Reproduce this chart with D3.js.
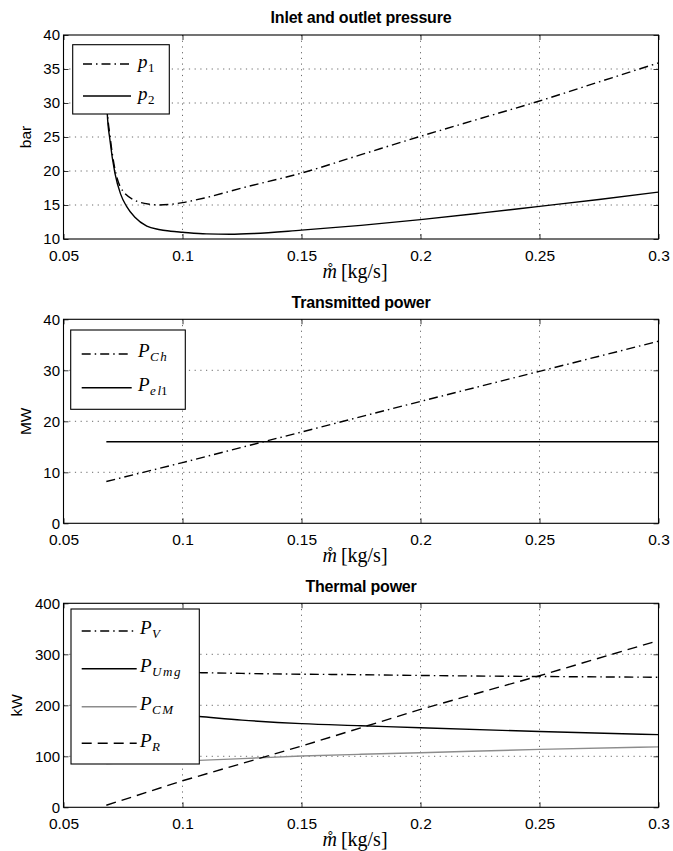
<!DOCTYPE html>
<html>
<head>
<meta charset="utf-8">
<script src="https://cdn.jsdelivr.net/npm/d3@7"></script>
<style>
  body { margin: 0; background: #fff; }
  text { font-family: "Liberation Sans", Arial, Helvetica, sans-serif; fill: #000; }
  .math { font-family: "Liberation Serif", "Times New Roman", serif; }
</style>
</head>
<body>
<div class="chart"></div>
<script>
// dimensions
var svgWidth = 673;
var svgHeight = 851;

var margin = { left: 63.5, right: 14.5 };
var plotHeight = 204;
var panelTops = [35, 319.3, 603.3];

// x axis, shared by all three plots
var xTicks = [0.05, 0.1, 0.15, 0.2, 0.25, 0.3];

// Inlet and outlet pressure (bar)
var p1X = [0.068, 0.0684, 0.0695, 0.0707, 0.0737, 0.0793, 0.0863, 0.09, 0.095, 0.1, 0.11, 0.125, 0.15, 0.175, 0.2, 0.225, 0.25, 0.275, 0.3];
var p1 = [38, 29.2, 25.3, 22.1, 17.8, 15.8, 15.1, 15.0, 15.1, 15.35, 16.1, 17.5, 19.7, 22.4, 25.1, 27.7, 30.3, 33.1, 35.9];
var p2X = [0.068, 0.0684, 0.0695, 0.0716, 0.074, 0.0765, 0.08, 0.085, 0.09, 0.095, 0.1, 0.11, 0.12, 0.13, 0.15, 0.175, 0.2, 0.225, 0.25, 0.275, 0.3];
var p2 = [38, 28.4, 24.6, 19.7, 16.6, 14.8, 13.2, 11.9, 11.4, 11.15, 11.0, 10.75, 10.7, 10.8, 11.3, 12.0, 12.85, 13.8, 14.8, 15.8, 16.9];
var pressureTicks = [10, 15, 20, 25, 30, 35, 40];

// Transmitted power (MW)
var chX = [0.068, 0.1, 0.15, 0.2, 0.25, 0.3];
var pCh = [8.2, 11.9, 17.9, 23.9, 29.8, 35.7];
var el1X = [0.068, 0.3];
var pEl1 = [16, 16];
var powerTicks = [0, 10, 20, 30, 40];

// Thermal power (kW)
var thX = [0.068, 0.085, 0.107, 0.125, 0.15, 0.175, 0.2, 0.25, 0.3];
var pV = [267, 265.5, 264, 262.5, 261, 260, 258.5, 256.5, 255];
var pUmg = [195, 186, 178, 171, 164, 160, 156, 148.5, 142.5];
var pCM = [86, 88.5, 92, 95.5, 100.5, 104, 107, 113.5, 118.5];
var rX = [0.068, 0.1, 0.15, 0.2, 0.25, 0.3];
var pR = [4, 52, 120, 192, 258, 327];
var thermalTicks = [0, 100, 200, 300, 400];

var DASHDOT = "9,4,1.5,4";
var DASHED = "10,6";

function zip(xs, ys) {
  return xs.map(function(x, i) { return [x, ys[i]]; });
}

var panels = [
  {
    title: "Inlet and outlet pressure", ylabel: "bar", ylabelX: 25,
    yDomain: [10, 40], yTicks: pressureTicks,
    legend: { x: 72.7, y: 9.7, w: 96.6, h: 69.3, lineX1: 83, lineX2: 131, textX: 138, rows: [29, 61] },
    series: [
      { label: ["p", "1"], data: zip(p1X, p1), color: "#000", dash: DASHDOT, curve: d3.curveMonotoneX },
      { label: ["p", "2"], data: zip(p2X, p2), color: "#000", dash: null, curve: d3.curveMonotoneX }
    ]
  },
  {
    title: "Transmitted power", ylabel: "MW", ylabelX: 25,
    yDomain: [0, 40], yTicks: powerTicks,
    legend: { x: 70.7, y: 10.7, w: 114.6, h: 79.3, lineX1: 81.7, lineX2: 131.7, textX: 138, rows: [34.7, 68.4] },
    series: [
      { label: ["P", "Ch"], data: zip(chX, pCh), color: "#000", dash: DASHDOT, curve: d3.curveLinear },
      { label: ["P", "el1"], data: zip(el1X, pEl1), color: "#000", dash: null, curve: d3.curveLinear }
    ]
  },
  {
    title: "Thermal power", ylabel: "kW", ylabelX: 16,
    yDomain: [0, 400], yTicks: thermalTicks,
    legend: { x: 71, y: 5.7, w: 128.3, h: 155, lineX1: 81.7, lineX2: 136.7, textX: 140, rows: [27.7, 65.4, 103.4, 140] },
    series: [
      { label: ["P", "V"], data: zip(thX, pV), color: "#000", dash: DASHDOT, curve: d3.curveMonotoneX },
      { label: ["P", "Umg"], data: zip(thX, pUmg), color: "#000", dash: null, curve: d3.curveMonotoneX },
      { label: ["P", "CM"], data: zip(thX, pCM), color: "#8c8c8c", dash: null, curve: d3.curveMonotoneX },
      { label: ["P", "R"], data: zip(rX, pR), color: "#000", dash: DASHED, curve: d3.curveLinear }
    ]
  }
];

var svg = d3.select(".chart")
  .append("svg")
  .attr("width", svgWidth)
  .attr("height", svgHeight);

var plotWidth = svgWidth - margin.left - margin.right;

var xScale = d3.scaleLinear()
  .domain([0.05, 0.3])
  .range([0, plotWidth]);

panels.forEach(function(panel, pi) {

  var g = svg.append("g")
    .attr("transform", `translate(${margin.left}, ${panelTops[pi]})`);

  var yScale = d3.scaleLinear()
    .domain(panel.yDomain)
    .range([plotHeight, 0]);

  // dotted grid
  g.append("g").selectAll("line.vg")
    .data(xTicks.slice(1, -1))
    .enter().append("line")
    .attr("x1", d => xScale(d)).attr("x2", d => xScale(d))
    .attr("y1", 0).attr("y2", plotHeight)
    .attr("stroke", "#444").attr("stroke-width", 0.8)
    .attr("stroke-dasharray", "1.2,4.5");

  g.append("g").selectAll("line.hg")
    .data(panel.yTicks.slice(1, -1))
    .enter().append("line")
    .attr("x1", 0).attr("x2", plotWidth)
    .attr("y1", d => yScale(d)).attr("y2", d => yScale(d))
    .attr("stroke", "#444").attr("stroke-width", 0.8)
    .attr("stroke-dasharray", "1.2,4.5");

  // axes (ticks inward, mirrored on top and right)
  var bottomAxis = d3.axisBottom(xScale).tickValues(xTicks).tickSize(-5).tickPadding(10.5)
    .tickFormat(d3.format("~g"));
  var topAxis = d3.axisTop(xScale).tickValues(xTicks).tickSize(-5).tickFormat("");
  var leftAxis = d3.axisLeft(yScale).tickValues(panel.yTicks).tickSize(-5).tickPadding(3.5);
  var rightAxis = d3.axisRight(yScale).tickValues(panel.yTicks).tickSize(-5).tickFormat("");

  var xAxisG = g.append("g")
    .attr("transform", `translate(0, ${plotHeight})`)
    .call(bottomAxis);
  g.append("g").call(topAxis);
  var yAxisG = g.append("g").call(leftAxis);
  g.append("g").attr("transform", `translate(${plotWidth}, 0)`).call(rightAxis);

  g.selectAll(".domain").remove();
  g.selectAll(".tick line").attr("stroke", "#000").attr("stroke-width", 0.8);
  xAxisG.selectAll("text").attr("font-size", "15.5px").attr("font-family", "Liberation Sans, Arial, sans-serif");
  yAxisG.selectAll("text").attr("font-size", "15px").attr("font-family", "Liberation Sans, Arial, sans-serif");

  // clipped data lines
  g.append("clipPath").attr("id", "clip" + pi)
    .append("rect").attr("width", plotWidth).attr("height", plotHeight);

  var lines = g.append("g").attr("clip-path", `url(#clip${pi})`);
  panel.series.forEach(function(s) {
    var line = d3.line()
      .x(d => xScale(d[0]))
      .y(d => yScale(d[1]))
      .curve(s.curve);
    lines.append("path")
      .datum(s.data)
      .attr("d", line)
      .attr("fill", "none")
      .attr("stroke", s.color)
      .attr("stroke-width", 1.4)
      .attr("stroke-dasharray", s.dash);
  });

  // plot box
  g.append("rect")
    .attr("width", plotWidth).attr("height", plotHeight)
    .attr("fill", "none").attr("stroke", "#000").attr("stroke-width", 1.1);

  // title
  g.append("text")
    .attr("x", plotWidth / 2).attr("y", -11.7)
    .attr("text-anchor", "middle")
    .attr("font-size", "16px")
    .attr("font-weight", "bold")
    .attr("letter-spacing", "-0.2px")
    .text(panel.title);

  // y label
  g.append("text")
    .attr("transform", `translate(${panel.ylabelX - margin.left}, ${plotHeight / 2}) rotate(-90)`)
    .attr("text-anchor", "middle")
    .attr("dominant-baseline", "central")
    .attr("font-size", "15.5px")
    .text(panel.ylabel);

  // x label
  var xl = g.append("text")
    .attr("class", "math")
    .attr("x", plotWidth / 2 - 6).attr("y", plotHeight + 39)
    .attr("text-anchor", "middle")
    .attr("font-size", "20px");
  xl.append("tspan").attr("font-style", "italic").text("m\u030A");
  xl.append("tspan").attr("dx", 4).text("[kg/s]");

  // legend
  var lg = panel.legend;
  var legend = svg.append("g")
    .attr("transform", `translate(0, ${panelTops[pi]})`);
  legend.append("rect")
    .attr("x", lg.x).attr("y", lg.y)
    .attr("width", lg.w).attr("height", lg.h)
    .attr("fill", "#fff").attr("stroke", "#000").attr("stroke-width", 1.1);

  panel.series.forEach(function(s, i) {
    var ry = lg.rows[i];
    legend.append("line")
      .attr("x1", lg.lineX1).attr("x2", lg.lineX2)
      .attr("y1", ry).attr("y2", ry)
      .attr("stroke", s.color)
      .attr("stroke-width", 1.4)
      .attr("stroke-dasharray", s.dash);

    var t = legend.append("text")
      .attr("class", "math")
      .attr("x", lg.textX).attr("y", ry + 3.5)
      .attr("font-size", "19px");
    t.append("tspan").attr("font-style", "italic").text(s.label[0]);
    // subscript: letters in italic, digits upright
    s.label[1].split("").forEach(function(ch, k) {
      var sp = t.append("tspan")
        .attr("font-size", "13px")
        .attr("font-style", /[0-9]/.test(ch) ? "normal" : "italic")
        .text(ch);
      if (k === 0) sp.attr("dy", 4).attr("dx", 0.5);
      else if (!/[0-9]/.test(ch)) sp.attr("dx", 1.5);
    });
  });
});
</script>
</body>
</html>
